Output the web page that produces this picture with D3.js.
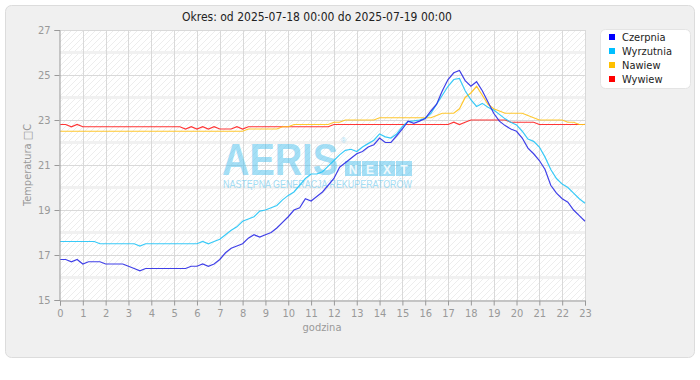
<!DOCTYPE html>
<html><head><meta charset="utf-8">
<script src="https://cdn.jsdelivr.net/npm/d3@7/dist/d3.min.js"></script>
<style>body{margin:0;background:#fff}svg{display:block;font-family:"DejaVu Sans Condensed","DejaVu Sans",sans-serif}</style>
</head><body><svg id="c" width="700" height="380"></svg>
<script>
const title = "Okres: od 2025-07-18 00:00 do 2025-07-19 00:00";
const seriesNames = ["Czerpnia","Wyrzutnia","Nawiew","Wywiew"];
const seriesColors = ["#0000ff","#00bfff","#ffc000","#ff0000"];
const lineColors = ["#2b2be6","#22c4f7","#ffc21a","#ff2020"];
const xTicks = d3.range(0,24,1);
const yTicks = [15,17,19,21,23,25,27];
const hours = d3.range(0, 23.001, 0.25);
const czerpnia = [16.8,16.8,16.7,16.8,16.6,16.7,16.7,16.7,16.6,16.6,16.6,16.6,16.5,16.4,16.3,16.4,
16.4,16.4,16.4,16.4,16.4,16.4,16.4,16.5,16.5,16.6,16.5,16.6,16.8,17.1,17.3,17.4,
17.5,17.75,17.9,17.8,17.9,18.0,18.2,18.45,18.7,19.0,19.1,19.5,19.4,19.6,19.8,20.1,
20.4,20.9,21.1,21.3,21.5,21.6,21.8,21.9,22.2,22.0,22.0,22.3,22.6,22.95,22.85,22.95,
23.07,23.4,23.7,24.3,24.8,25.1,25.2,24.75,24.5,24.7,24.3,23.8,23.3,22.95,22.75,22.6,
22.5,22.2,21.75,21.5,21.2,20.8,20.1,19.75,19.5,19.35,19.0,18.75,18.5];
const wyrzutnia = [17.6,17.6,17.6,17.6,17.6,17.6,17.6,17.5,17.5,17.5,17.5,17.5,17.5,17.5,17.4,17.5,
17.5,17.5,17.5,17.5,17.5,17.5,17.5,17.5,17.5,17.6,17.5,17.6,17.7,17.9,18.1,18.25,
18.5,18.6,18.7,18.95,19.0,19.1,19.2,19.45,19.65,19.8,20.1,20.4,20.6,20.6,20.7,20.95,
21.2,21.45,21.65,21.7,21.6,21.8,21.95,22.1,22.38,22.25,22.2,22.38,22.7,22.93,22.96,23.0,
23.07,23.3,23.7,24.1,24.5,24.8,24.85,24.3,23.9,23.6,23.74,23.57,23.44,23.25,23.05,22.9,
22.78,22.5,22.15,22.05,21.8,21.35,20.8,20.4,20.15,20.0,19.75,19.5,19.3];
const nawiew = [22.5,22.5,22.5,22.5,22.5,22.5,22.5,22.5,22.5,22.5,22.5,22.5,22.5,22.5,22.5,22.5,
22.5,22.5,22.5,22.5,22.5,22.5,22.5,22.5,22.5,22.5,22.5,22.5,22.5,22.5,22.5,22.5,
22.5,22.6,22.6,22.6,22.6,22.6,22.6,22.7,22.7,22.8,22.8,22.8,22.8,22.8,22.8,22.8,
22.9,22.9,23.0,23.0,23.0,23.0,23.0,23.0,23.1,23.1,23.1,23.1,23.1,23.1,23.1,23.1,
23.1,23.1,23.2,23.3,23.3,23.3,23.5,24.0,24.2,24.5,24.1,23.7,23.5,23.4,23.3,23.3,
23.3,23.3,23.2,23.1,23.0,23.0,23.0,23.0,23.0,22.9,22.9,22.8,22.8];
const wywiew = [22.8,22.8,22.7,22.8,22.7,22.7,22.7,22.7,22.7,22.7,22.7,22.7,22.7,22.7,22.7,22.7,
22.7,22.7,22.7,22.7,22.7,22.7,22.6,22.7,22.6,22.7,22.6,22.7,22.6,22.6,22.6,22.7,
22.6,22.7,22.7,22.7,22.7,22.7,22.7,22.7,22.7,22.7,22.7,22.7,22.7,22.7,22.7,22.7,
22.8,22.8,22.8,22.8,22.8,22.8,22.8,22.8,22.8,22.8,22.8,22.8,22.8,22.8,22.8,22.8,
22.8,22.8,22.8,22.8,22.8,22.9,22.8,22.9,23.0,23.0,23.0,23.0,23.0,23.0,23.0,22.9,
22.9,22.9,22.9,22.9,22.8,22.8,22.8,22.8,22.8,22.8,22.8,22.8,22.8];
const allSeries = [czerpnia, wyrzutnia, nawiew, wywiew];

const svg = d3.select("#c");
const L=60,R=585,T=30,B=300;
const x = d3.scaleLinear().domain([0,23]).range([L,R]);
const y = d3.scaleLinear().domain([15,27]).range([B,T]);

svg.append("rect").attr("x",5.5).attr("y",5.5).attr("width",689).attr("height",352).attr("rx",6)
  .attr("fill","#f0f0f0").attr("stroke","#dcdcdc");

const defs = svg.append("defs");
const pat = defs.append("pattern").attr("id","hatch").attr("patternUnits","userSpaceOnUse")
  .attr("width",6).attr("height",6);
pat.append("rect").attr("width",6).attr("height",6).attr("fill","#ffffff");
pat.append("path").attr("d","M-1,1 l2,-2 M0,6 l6,-6 M5,7 l2,-2").attr("stroke","#ededed").attr("stroke-width",1);
svg.append("rect").attr("x",L).attr("y",T).attr("width",R-L).attr("height",B-T).attr("fill","url(#hatch)");

const g = svg.append("g");
g.selectAll(".band").data([16,18,20,22,24,26]).join("line")
  .attr("x1",L).attr("x2",R).attr("y1",d=>y(d)).attr("y2",d=>y(d))
  .attr("stroke","#f1f1f1").attr("stroke-width",3);
g.selectAll(".hg").data(yTicks.slice(1)).join("line")
  .attr("x1",L).attr("x2",R).attr("y1",d=>Math.round(y(d))+0.5).attr("y2",d=>Math.round(y(d))+0.5)
  .attr("stroke","#d9d9d9");
g.selectAll(".vg").data(xTicks.slice(1)).join("line")
  .attr("x1",d=>Math.round(x(d))+0.5).attr("x2",d=>Math.round(x(d))+0.5).attr("y1",T).attr("y2",B)
  .attr("stroke","#d9d9d9");

// watermark
const wm = svg.append("g").attr("fill","#4cc0ee").attr("opacity",0.5);
const aeris = wm.append("text").attr("font-family","Liberation Sans, Arial, sans-serif")
  .attr("font-weight","bold").attr("font-size",44).text("AERIS");
const aw = aeris.node().getComputedTextLength();
aeris.attr("transform",`translate(222,175) scale(${116/aw},1)`);
wm.append("text").attr("x",341).attr("y",143).attr("font-size",7).attr("font-family","Liberation Sans, sans-serif").text("®");
["N","E","X","T"].forEach((c,i)=>{
  wm.append("rect").attr("x",345+i*17).attr("y",161).attr("width",16).attr("height",15);
});
const nx = svg.append("g").attr("fill","#ffffff").attr("opacity",0.85);
["N","E","X","T"].forEach((c,i)=>{
  nx.append("text").attr("x",353+i*17).attr("y",173.5).attr("text-anchor","middle").attr("font-weight","bold")
    .attr("font-size",12).attr("font-family","Liberation Sans, sans-serif").text(c);
});
const nast = wm.append("text").attr("font-size",10).attr("font-family","Liberation Sans, Arial, sans-serif")
  .text("NASTĘPNA GENERACJA REKUPERATORÓW");
const nw = nast.node().getComputedTextLength();
nast.attr("transform",`translate(223,188) scale(${189/nw},1)`);

// lines
const line = d3.line().x((d,i)=>x(hours[i])).y(d=>y(d));
[3,2,1,0].forEach(k=>{
  svg.append("path").datum(allSeries[k]).attr("d",line).attr("fill","none")
    .attr("stroke",lineColors[k]).attr("stroke-width",1.2).attr("stroke-opacity",0.9);
});

// axes
const axisColor="#999";
const xa = svg.append("g").attr("transform",`translate(0,${B+0.5})`)
  .call(d3.axisBottom(x).tickValues(xTicks).tickSize(5).tickPadding(4).tickFormat(d3.format("d")));
const ya = svg.append("g").attr("transform",`translate(${L-0.5},0)`)
  .call(d3.axisLeft(y).tickValues(yTicks).tickSize(5).tickPadding(4).tickFormat(d3.format("d")));
[xa,ya].forEach(a=>{
  a.select(".domain").attr("stroke",axisColor);
  a.selectAll(".tick line").attr("stroke",axisColor);
  a.selectAll(".tick text").attr("fill","#999").attr("font-size",11).attr("font-family","DejaVu Sans Condensed, sans-serif");
});

svg.append("text").attr("x",317).attr("y",21).attr("text-anchor","middle").attr("font-size",12).attr("fill","#222").text(title);
svg.append("text").attr("x",322).attr("y",331).attr("text-anchor","middle").attr("font-size",11).attr("fill","#999").text("godzina");
svg.append("text").attr("transform","translate(31,165) rotate(-90)").attr("text-anchor","middle")
  .attr("font-size",11).attr("fill","#999").text("Temperatura □C");

const lg = svg.append("g");
lg.append("rect").attr("x",600.5).attr("y",29.5).attr("width",90).attr("height",59).attr("rx",5)
  .attr("fill","#fff").attr("stroke","#e4e4e4");
seriesNames.forEach((n,i)=>{
  lg.append("rect").attr("x",609).attr("y",34+i*14).attr("width",6).attr("height",6).attr("fill",seriesColors[i]);
  lg.append("text").attr("x",622).attr("y",41+i*14).attr("font-size",11).attr("fill","#222").text(n);
});
</script></body></html>
